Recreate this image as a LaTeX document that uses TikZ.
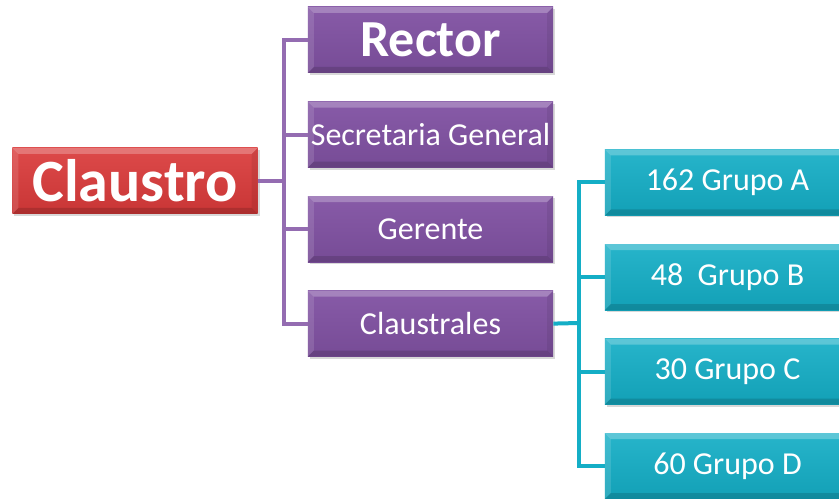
\documentclass[tikz,border=0pt]{standalone}
\usepackage{fontspec}
\setmainfont{Carlito}
\usepackage{xcolor}
\definecolor{claustrored}{HTML}{DA3A3A}
\definecolor{rectorpurple}{HTML}{8152A3}
\definecolor{grupocyan}{HTML}{14AEC6}
\usetikzlibrary{positioning,shadows}

\begin{document}
\begin{tikzpicture}[
        x=0.75pt, y=-0.75pt,
        node distance=21pt,
        bevel/.style={path picture={
            \coordinate (ll) at (path picture bounding box.south west);
            \coordinate (ur) at (path picture bounding box.north east);
            \fill[white, opacity=0.25] (ll|-ur) -- (ur) -- ([xshift=-4.5pt, yshift=-4.5pt]ur) -- ([xshift=4.5pt, yshift=-4.5pt]ll|-ur) -- cycle;
            \fill[white, opacity=0.12] (ll) -- (ll|-ur) -- ([xshift=4.5pt, yshift=-4.5pt]ll|-ur) -- ([xshift=4.5pt, yshift=4.5pt]ll) -- cycle;
            \fill[black, opacity=0.14] (ll) -- (ur|-ll) -- ([xshift=-4.5pt, yshift=4.5pt]ur|-ll) -- ([xshift=4.5pt, yshift=4.5pt]ll) -- cycle;
            \fill[black, opacity=0.07] (ur|-ll) -- (ur) -- ([xshift=-4.5pt, yshift=-4.5pt]ur) -- ([xshift=-4.5pt, yshift=4.5pt]ur|-ll) -- cycle;
        }},
        box/.style={rectangle, text=white, minimum width=184pt, minimum height=49.5pt, inner sep=0pt, align=center,
            bevel, drop shadow={opacity=0.3, shadow xshift=1.5pt, shadow yshift=-1.5pt},
            font=\fontsize{24}{24}\selectfont},
        headbox/.style={box, top color=claustrored!92!white, bottom color=claustrored!92!black},
        staffbox/.style={box, top color=rectorpurple!95!white, bottom color=rectorpurple!92!black},
        groupbox/.style={box, top color=grupocyan!92!white, bottom color=grupocyan!92!black},
        plink/.style={draw=rectorpurple!85!white, line width=3pt},
        glink/.style={draw=grupocyan, line width=3pt}
    ]
        \useasboundingbox (0,0) rectangle (839,499);
        \clip (0,0) rectangle (839,499);
        \fill[white] (0,0) rectangle (839,499);

        % junctions of the two brackets
        \coordinate (pbus) at (284,181);
        \coordinate (gbus) at (579,323);

        \node[headbox, font=\fontsize{45}{45}\selectfont\bfseries] (claustro) at (135,181) {Claustro};
        \node[staffbox, font=\fontsize{39}{39}\selectfont\bfseries] (rector) at (430.5,40) {Rector};
        \node[staffbox, below=of rector] (secretaria) {Secretaria General};
        \node[staffbox, below=of secretaria] (gerente) {Gerente};
        \node[staffbox, below=of gerente] (claustrales) {Claustrales};

        \node[groupbox] (grupoA) at (727.5,182.5) {162 Grupo A};
        \node[groupbox, below=of grupoA] (grupoB) {48~~Grupo B};
        \node[groupbox, below=of grupoB] (grupoC) {30 Grupo C};
        \node[groupbox, below=of grupoC] (grupoD) {60 Grupo D};

        \draw[plink] (claustro.east) -- (pbus);
        \foreach \n in {rector,secretaria,gerente,claustrales}
            \draw[plink] (pbus) |- (\n.west);
        \draw[glink] (claustrales.east) -- (gbus);
        \foreach \n in {grupoA,grupoB,grupoC,grupoD}
            \draw[glink] (gbus) |- (\n.west);
    \end{tikzpicture}
\end{document}
